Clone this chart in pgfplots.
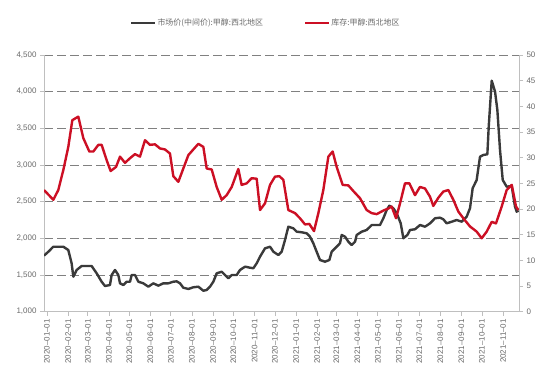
\documentclass[border=0pt]{standalone}
\usepackage{pgfplots}
\pgfplotsset{compat=1.18}
\usepackage{fontspec}
\setmainfont{Liberation Sans}
\newfontfamily\cjk{Noto Sans CJK SC}
\definecolor{blk}{HTML}{3A3A3A}
\definecolor{rd}{HTML}{CC0F24}
\definecolor{axgray}{HTML}{BFBFBF}
\definecolor{txtgray}{HTML}{6A6A6A}
\definecolor{gridgray}{HTML}{808080}
\begin{document}
\begin{tikzpicture}
\path[use as bounding box] (-44bp,-64.3bp) rectangle (506bp,311.7bp);
\pgfplotsset{common/.style={
  at={(0,0)}, anchor=south west, scale only axis,
  width=475bp, height=256.7bp,
  xmin=-4.4, xmax=693.5,
  tick align=outside, major tick length=4bp,
  tick style={axgray, line width=0.8bp},
  axis line style={axgray, line width=0.8bp},
  ticklabel style={font=\fontsize{8}{9}\selectfont, text=txtgray},
  /pgf/number format/1000 sep={,},
  /pgf/number format/assume math mode=true,
}}
\begin{axis}[common,
  ymin=1000, ymax=4500, ytick={1000,1500,...,4500},
  axis x line*=bottom, axis y line*=left,
  ymajorgrids, major grid style={gridgray, dash pattern=on 9bp off 4bp, line width=0.6bp},
  xtick={0,31,60,91,121,152,182,213,244,274,305,335,366,397,425,456,486,517,547,578,609,639,670},
  xticklabels={2020--01--01,2020--02--01,2020--03--01,2020--04--01,2020--05--01,2020--06--01,2020--07--01,2020--08--01,2020--09--01,2020--10--01,2020--11--01,2020--12--01,2021--01--01,2021--02--01,2021--03--01,2021--04--01,2021--05--01,2021--06--01,2021--07--01,2021--08--01,2021--09--01,2021--10--01,2021--11--01},
  xticklabel style={rotate=90, anchor=east},
]
\addplot[blk, line width=2.4bp, line join=round] coordinates {
(-4.4,1764) (2,1818) (9.3,1886) (16.6,1886) (24,1886) (31.3,1841) (36.2,1660) (38.7,1477) (43.6,1569) (50.9,1623) (58.3,1623) (65.6,1623) (73,1523) (80.3,1409) (85.2,1350) (92.5,1364) (95,1500) (99.9,1569) (104.8,1500) (107.3,1387) (112.2,1364) (117.1,1409) (122,1409) (124.4,1500) (129.3,1500) (134.2,1409) (141.5,1387) (148.9,1341) (156.2,1387) (163.6,1355) (170.9,1387) (178.3,1387) (185.6,1409) (190.5,1414) (195.4,1387) (200.3,1327) (207.7,1310) (215,1333) (222.4,1341) (229.7,1286) (234.6,1296) (239.5,1341) (244.4,1409) (249.3,1523) (256.7,1545) (261.6,1500) (266.5,1455) (271.4,1500) (278.7,1500) (283.6,1569) (291,1614) (298.3,1600) (303.2,1592) (308.1,1660) (313,1750) (320.3,1864) (327.7,1886)
(332.6,1818) (339.9,1773) (344.8,1818) (349.7,1978) (354.6,2159)
(361.9,2137) (366.8,2091) (374.2,2083) (381.5,2069) (386.4,2023) (391.3,1933) (396.2,1818) (401.1,1705) (408.5,1682) (414.9,1705) (418.3,1818) (425.6,1886) (430.5,1933) (433,2046) (437.9,2023) (442.8,1954) (447.7,1909) (452.6,1954) (455,2046) (462.4,2091) (469.7,2114) (477.1,2182) (489.3,2182) (494.2,2274) (499.1,2387) (503,2445) (508.9,2410) (513.8,2342) (519.7,2205) (523.6,2001) (529.5,2046) (533.4,2114) (540.7,2124) (548.1,2182) (555.4,2159) (562.8,2205) (570.1,2274) (577.4,2282) (582.3,2260) (587.2,2205) (594.6,2227) (601.9,2250) (609.3,2227) (616.6,2295) (621.5,2410) (625.4,2683) (631.3,2796) (636.2,3113) (641.1,3137) (647,3146) (649,3522) (653.4,4150) (658.3,4000) (661.7,3750) (665.6,3205) (669.6,2796) (675.4,2704) (682.8,2714) (687.6,2432) (690.1,2364) (693,2377)
};
\end{axis}
\begin{axis}[common,
  ymin=0, ymax=50, ytick={0,5,...,50},
  axis y line*=right, axis x line=none,
  legend style={at={(0.466,1.125)}, anchor=center, draw=none, fill=none,
    legend columns=2, font=\cjk\fontsize{8}{9}\selectfont, text=txtgray,
    /tikz/every even column/.append style={column sep=40bp},
    nodes={inner sep=1bp}},
  legend image code/.code={\draw[#1] (0bp,0bp) -- (24bp,0bp);},
]
\addlegendimage{blk, line width=2.4bp}
\addlegendentry{市场价(中间价):甲醇:西北地区}
\addplot[rd, line width=2.4bp, line join=round] coordinates {
(-4.4,23.7) (9.3,21.8) (16.6,23.7) (24,27.6) (31.3,32.1) (37.2,37.3) (46,38.0) (53.4,33.8) (62.2,31.2) (68.1,31.2) (75.4,32.5) (80.3,32.5) (87.7,29.5) (93.5,27.4) (101.4,28.2) (107.3,30.2) (114.6,29.0) (122,29.9) (129.3,30.7) (136.6,30.2) (144,33.4) (151.3,32.5) (158.7,32.6) (166,31.8) (173.4,31.6) (180.7,30.8) (185.6,26.4) (193,25.3) (200.3,27.9) (207.7,30.5) (215,31.6) (222.4,32.7) (229.7,32.1) (234.6,27.9) (242,27.7) (249.3,24.3) (256.7,21.8) (264,22.7) (271.4,24.3) (281.1,27.8) (286,24.7) (293.4,25.0) (300.7,26.0) (308.1,25.9) (313,19.8) (320.3,21.1) (327.7,24.7) (335,26.3) (341.3,26.4) (347.2,25.7) (354.6,19.8) (364.4,19.2) (371.7,18.2) (379.1,17.0) (385.4,17.1) (392.3,15.7) (398.7,19.2) (406,23.7) (413.4,30.2) (419.7,31.2) (425.6,28.2) (434.4,24.7) (442.8,24.6) (450.1,23.5) (459.9,22.1) (469.7,19.8) (477,19.2) (484.4,19.0) (494.2,19.7) (501.5,20.1) (506.4,20.5) (512.8,18.2) (518.7,21.1) (526,25.0) (532.4,25.0) (540.7,22.7) (548,24.3) (555.4,24.0) (562.7,22.4) (567.6,20.6) (575,22.2) (582.3,23.4) (589.7,23.7) (597,21.8) (604.4,19.5) (611.7,18.2) (621.5,16.6) (631.3,15.6) (638.7,14.3) (646,15.6) (653.4,17.5) (659.7,17.2) (668.1,20.5) (675.4,23.7) (682.8,24.7) (689.1,20.5) (692.5,19.8)
};
\addlegendentry{库存:甲醇:西北地区}
\end{axis}
\end{tikzpicture}
\end{document}
